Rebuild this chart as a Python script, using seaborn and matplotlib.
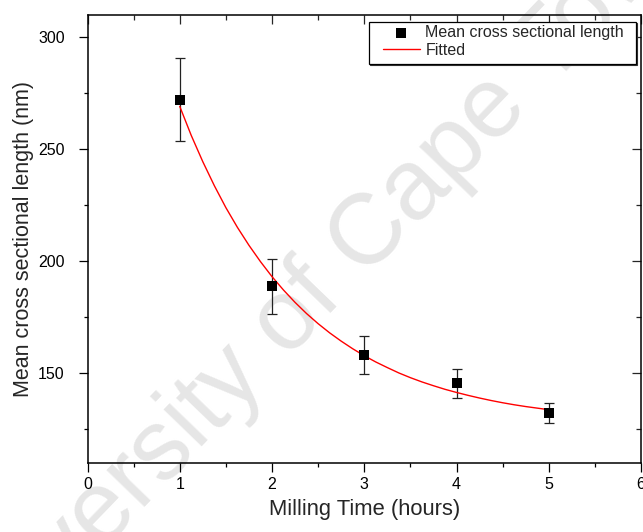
import matplotlib
matplotlib.use("Agg")
import matplotlib.pyplot as plt
from matplotlib.patches import Rectangle
from matplotlib.transforms import offset_copy
import seaborn as sns
import pandas as pd

# ---- data ----
milling_time = [1, 2, 3, 4, 5]
mean_length = [272.2, 188.8, 158.4, 145.5, 132.3]
length_err = [18.6, 12.2, 8.5, 6.6, 4.3]

fit_time = [1.0, 1.125, 1.25, 1.375, 1.5, 1.625, 1.75, 1.875, 2.0,
            2.125, 2.25, 2.375, 2.5, 2.625, 2.75, 2.875, 3.0,
            3.125, 3.25, 3.375, 3.5, 3.625, 3.75, 3.875, 4.0,
            4.125, 4.25, 4.375, 4.5, 4.625, 4.75, 4.875, 5.0]
fit_length = [269.2, 256.2, 244.5, 233.8, 224.0, 215.2, 207.2, 199.9, 193.2,
              187.2, 181.7, 176.7, 172.2, 168.1, 164.4, 161.0, 157.9,
              155.1, 152.6, 150.2, 148.1, 146.2, 144.5, 142.9, 141.5,
              140.2, 139.0, 137.9, 136.9, 136.0, 135.2, 134.5, 133.8]

x_ticks = [0, 1, 2, 3, 4, 5, 6]
x_minor = [0.5, 1.5, 2.5, 3.5, 4.5, 5.5]
y_ticks = [150, 200, 250, 300]
y_minor = [125, 175, 225, 275]

pts = pd.DataFrame({"t": milling_time, "L": mean_length, "e": length_err})
fit = pd.DataFrame({"t": fit_time, "L": fit_length})

sns.set_theme(style="ticks")
plt.rcParams["font.family"] = ["Liberation Sans", "DejaVu Sans"]

W, H = 643, 532
fig = plt.figure(figsize=(W / 100, H / 100), dpi=100)
ax_l, ax_r, ax_t, ax_b = 87.5, 641, 15, 463
ax = fig.add_axes([ax_l / W, 1 - ax_b / H, (ax_r - ax_l) / W, (ax_b - ax_t) / H])
ax.set_facecolor("none")


def ax_xy(px, py):
    return (px - ax_l) / (ax_r - ax_l), 1 - (py - ax_t) / (ax_b - ax_t)


# watermark
fig.text(318 / W, 1 - 290 / H, "University of Cape Town", fontsize=72,
         color="#e6e6e6", rotation=46, ha="center", va="center",
         rotation_mode="anchor", zorder=-10)

ax.errorbar(pts["t"], pts["L"], yerr=pts["e"], fmt="none", ecolor="#222222",
            elinewidth=0.9, capsize=3.6, capthick=0.9, zorder=2)
sns.lineplot(data=fit, x="t", y="L", color="#ff0000", linewidth=1.0,
             ax=ax, label="Fitted", zorder=3, sort=False)
sns.scatterplot(data=pts, x="t", y="L", marker="s", color="black", s=48,
                edgecolor="black", linewidth=0, ax=ax,
                label="Mean cross sectional length", zorder=4)

ax.set_xlim(0, 6)
ax.set_ylim(110, 310)
ax.set_xticks(x_ticks)
ax.set_yticks(y_ticks)
ax.set_xticks(x_minor, minor=True)
ax.set_yticks(y_minor, minor=True)

ax.tick_params(which="both", direction="out", width=0.9, colors="black",
               labelsize=11.5, top=False, right=False)
ax.tick_params(axis="x", pad=3.5)
ax.tick_params(axis="y", pad=10)
ax.tick_params(which="major", length=6.5)
ax.tick_params(which="minor", length=3)

# top / right ticks inward
axt = ax.secondary_xaxis("top")
axt.set_xticks(x_ticks)
axt.set_xticks(x_minor, minor=True)
axt.set_xticklabels([])
axt.tick_params(which="both", direction="in", width=0.9)
axt.tick_params(which="major", length=6.5)
axt.tick_params(which="minor", length=3.5)
axt.spines["top"].set_visible(False)
axr = ax.secondary_yaxis("right")
axr.set_yticks(y_ticks)
axr.set_yticks(y_minor, minor=True)
axr.set_yticklabels([])
axr.tick_params(which="both", direction="in", width=0.9)
axr.tick_params(which="major", length=6.5)
axr.tick_params(which="minor", length=3.5)
axr.spines["right"].set_visible(False)
for s in ax.spines.values():
    s.set_linewidth(1.1)
    s.set_color("black")

ax.set_xlabel("Milling Time (hours)", fontsize=15.8, labelpad=5)
ax.set_ylabel("Mean cross sectional length (nm)", fontsize=15.5, labelpad=3)

# legend frame with small shadow
x0, y1 = ax_xy(369, 22)
x1, y0 = ax_xy(636, 64)
shadow = Rectangle((x0, y0), x1 - x0, y1 - y0, facecolor="#333333",
                   edgecolor="#333333", lw=0.8, zorder=5,
                   transform=offset_copy(ax.transAxes, fig=fig, x=1.2, y=-1.2,
                                         units="dots"), clip_on=False)
frame = Rectangle((x0, y0), x1 - x0, y1 - y0, facecolor="white",
                  edgecolor="black", lw=0.9, zorder=6,
                  transform=ax.transAxes, clip_on=False)
ax.add_patch(shadow)
ax.add_patch(frame)

h, l = ax.get_legend_handles_labels()
order = [l.index("Mean cross sectional length"), l.index("Fitted")]
leg = ax.legend([h[i] for i in order], [l[i] for i in order],
                loc="upper left", bbox_to_anchor=ax_xy(383, 25.5),
                borderaxespad=0, borderpad=0, fontsize=11.5, frameon=False,
                handlelength=2.3, handletextpad=0.35, labelspacing=0.16)
leg.set_zorder(7)

fig.savefig("out.png", dpi=100)
